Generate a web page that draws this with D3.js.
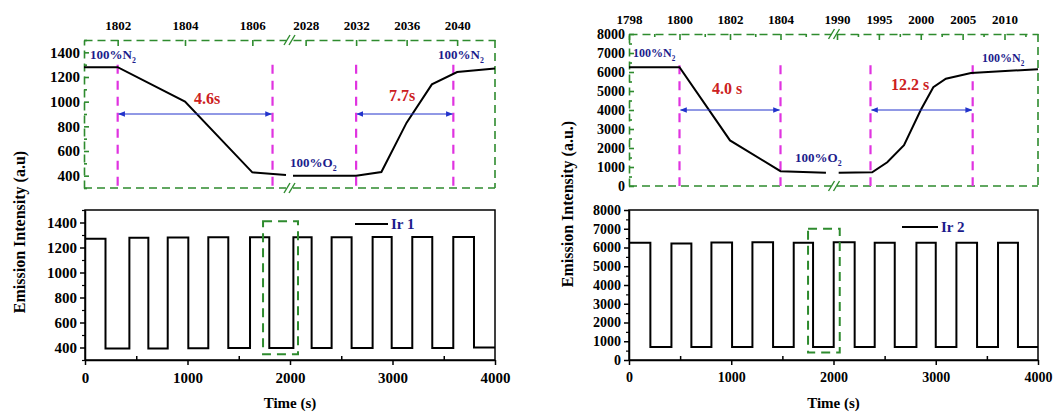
<!DOCTYPE html>
<html>
<head>
<meta charset="utf-8">
<script src="https://cdn.jsdelivr.net/npm/d3@7"></script>
<style>
  body { margin: 0; background: #fff; }
  svg text { font-family: "Liberation Serif", "Times New Roman", "DejaVu Serif", serif !important; font-weight: bold; }
</style>
</head>
<body>
<div id="vizContainer"></div>
<script>
let w = 1053;
let h = 414;
let serif = '"Liberation Serif", "Times New Roman", serif';

// ---------- data ----------
// Ir 1 zoomed transition (left inset)
let ir1ZoomOffT = [1801, 1802, 1804, 1806, 1807];
let ir1ZoomOffV = [1280, 1280, 1000, 427, 405];
let ir1ZoomOnT = [2027, 2032, 2034, 2036, 2038, 2040, 2043];
let ir1ZoomOnV = [400, 400, 430, 830, 1140, 1240, 1268];
// Ir 2 zoomed transition (right inset)
let ir2ZoomOffT = [1798, 1800, 1802, 1804, 1805.8];
let ir2ZoomOffV = [6250, 6250, 2400, 780, 700];
let ir2ZoomOnT = [1990.2, 1994.2, 1996, 1998, 2000, 2001.5, 2003, 2006, 2014];
let ir2ZoomOnV = [700, 720, 1250, 2150, 4000, 5200, 5650, 5950, 6150];

// full cycling curves: switching times and the level held after each switch
let ir1Times = [0, 200, 433, 618, 807, 1008, 1203, 1398, 1610, 1798, 2033, 2211, 2406, 2601, 2806, 2992, 3193, 3388, 3593, 3795, 4000];
let ir1Levels = [1270, 393, 1278, 393, 1280, 395, 1282, 397, 1282, 397, 1283, 397, 1283, 397, 1285, 397, 1285, 397, 1285, 400, 400];
let ir2Times = [0, 209, 415, 610, 806, 1008, 1207, 1409, 1611, 1800, 2002, 2207, 2403, 2599, 2811, 3000, 3202, 3404, 3609, 3804, 4000];
let ir2Levels = [6250, 700, 6220, 700, 6270, 700, 6280, 700, 6260, 700, 6280, 700, 6260, 700, 6250, 700, 6250, 700, 6250, 700, 700];

// response times
let ir1Marks = [1802, 1806.6, 2032, 2039.7];
let ir2Marks = [1800, 1804, 1994, 2006.2];
let ir1Labels = ["4.6s", "7.7s"];
let ir2Labels = ["4.0 s", "12.2 s"];

// tick values
let ir1TopTicksL = [1802, 1804, 1806];
let ir1TopTicksR = [2028, 2032, 2036, 2040];
let ir2TopTicksL = [1798, 1800, 1802, 1804];
let ir2TopTicksR = [1990, 1995, 2000, 2005, 2010];
let ir1YTicks = [400, 600, 800, 1000, 1200, 1400];
let ir2YTicks = [0, 1000, 2000, 3000, 4000, 5000, 6000, 7000, 8000];
let timeTicks = [0, 1000, 2000, 3000, 4000];

// ---------- svg ----------
let viz = d3.select("#vizContainer").append("svg")
    .attr("width", w)
    .attr("height", h)
    .style("background-color", "white")
;

let green = "#2e8b2e";
let pink = "#e033e0";
let blue = "#2233cc";
let navy = "#1c1c8c";
let red = "#cc2020";
let fmt = d3.format("d");

let defs = viz.append("defs");
["arrEnd", "arrStart"].forEach((id, i) => {
  defs.append("marker")
    .attr("id", id)
    .attr("viewBox", "0 0 10 10")
    .attr("refX", i == 0 ? 9 : 1).attr("refY", 5)
    .attr("markerWidth", 7).attr("markerHeight", 7)
    .attr("orient", "auto")
    .append("path")
    .attr("d", i == 0 ? "M0,1 L10,5 L0,9 z" : "M10,1 L0,5 L10,9 z")
    .attr("fill", blue);
});

function styleTicks(g, size) {
  g.attr("font-family", serif);
  g.selectAll("text").style("font-size", size + "px").style("font-family", serif)
    .style("font-weight", "bold").attr("fill", "black");
}

// ---------- inset (broken axis, green dashed frame) ----------
function drawInset(cfg) {
  let g = viz.append("g").attr("class", "inset");
  let xL = d3.scaleLinear().domain(cfg.domL).range(cfg.rangeL);
  let xR = d3.scaleLinear().domain(cfg.domR).range(cfg.rangeR);
  let y = d3.scaleLinear().domain(cfg.yDom).range([cfg.bottom, cfg.top]);
  let left = cfg.rangeL[0], right = cfg.rangeR[1];

  // top axes
  [[xL, cfg.ticksL, cfg.minorL], [xR, cfg.ticksR, cfg.minorR]].forEach(([sc, tv, mv]) => {
    let ax = g.append("g").attr("transform", "translate(0," + cfg.top + ")")
      .call(d3.axisTop(sc).tickValues(tv).tickSize(-6).tickSizeOuter(0).tickPadding(10).tickFormat(fmt));
    ax.selectAll("path").attr("stroke", green).attr("stroke-width", 1.6).attr("stroke-dasharray", "8,5");
    ax.selectAll("line").attr("stroke", green).attr("stroke-width", 1.6);
    styleTicks(ax, 13);
    if (mv) {
      g.append("g").attr("transform", "translate(0," + cfg.top + ")")
        .call(d3.axisTop(sc).tickValues(mv).tickSize(-3).tickSizeOuter(0).tickFormat(""))
        .call(a => a.select("path").remove())
        .selectAll("line").attr("stroke", green).attr("stroke-width", 1.6);
    }
  });

  // bottom line (broken)
  [cfg.rangeL, cfg.rangeR].forEach(r => {
    g.append("line").attr("x1", r[0]).attr("x2", r[1]).attr("y1", cfg.bottom).attr("y2", cfg.bottom)
      .attr("stroke", green).attr("stroke-width", 1.6).attr("stroke-dasharray", "8,5");
  });
  // right line
  g.append("line").attr("x1", right).attr("x2", right).attr("y1", cfg.top).attr("y2", cfg.bottom)
    .attr("stroke", green).attr("stroke-width", 1.6).attr("stroke-dasharray", "8,5");

  // left axis
  let ay = g.append("g").attr("transform", "translate(" + left + ",0)")
    .call(d3.axisLeft(y).tickValues(cfg.yTicks).tickSize(-5).tickSizeOuter(0).tickPadding(4).tickFormat(fmt));
  ay.selectAll("path").attr("stroke", green).attr("stroke-width", 1.6).attr("stroke-dasharray", "8,5");
  ay.selectAll("line").attr("stroke", green).attr("stroke-width", 1.6);
  styleTicks(ay, cfg.fs);
  g.append("g").attr("transform", "translate(" + left + ",0)")
    .call(d3.axisLeft(y).tickValues(cfg.yMinor).tickSize(-3).tickSizeOuter(0).tickFormat(""))
    .call(a => a.select("path").remove())
    .selectAll("line").attr("stroke", green).attr("stroke-width", 1.6);

  // break marks
  let bx = (cfg.rangeL[1] + cfg.rangeR[0]) / 2;
  [cfg.top, cfg.bottom].forEach(yy => {
    [-2.5, 2.5].forEach(dx => {
      g.append("line").attr("x1", bx + dx - 3).attr("x2", bx + dx + 3).attr("y1", yy + 5).attr("y2", yy - 5)
        .attr("stroke", green).attr("stroke-width", 1.4);
    });
  });

  // pink dashed markers
  cfg.marks.forEach((m, i) => {
    let sc = i < 2 ? xL : xR;
    g.append("line").attr("x1", sc(m)).attr("x2", sc(m)).attr("y1", y(cfg.markTop)).attr("y2", cfg.bottom)
      .attr("stroke", pink).attr("stroke-width", 2.2).attr("stroke-dasharray", "9,7");
  });

  // curves
  let lineL = d3.line().x(d => xL(d[0])).y(d => y(d[1]));
  let lineR = d3.line().x(d => xR(d[0])).y(d => y(d[1]));
  g.append("path").attr("d", lineL(d3.zip(cfg.offT, cfg.offV)))
    .attr("fill", "none").attr("stroke", "black").attr("stroke-width", 2);
  g.append("path").attr("d", lineR(d3.zip(cfg.onT, cfg.onV)))
    .attr("fill", "none").attr("stroke", "black").attr("stroke-width", 2);

  // arrows and response-time labels
  [[xL, 0], [xR, 2]].forEach(([sc, k], j) => {
    g.append("line")
      .attr("x1", sc(cfg.marks[k]) + 1).attr("x2", sc(cfg.marks[k + 1]) - 1)
      .attr("y1", y(cfg.arrowV)).attr("y2", y(cfg.arrowV))
      .attr("stroke", blue).attr("stroke-width", 1)
      .attr("marker-end", "url(#arrEnd)").attr("marker-start", "url(#arrStart)");
    g.append("text").attr("x", cfg.labelPos[j][0]).attr("y", cfg.labelPos[j][1])
      .attr("text-anchor", "middle").attr("fill", red).style("font-size", "16px")
      .text(cfg.labels[j]);
  });

  // gas labels
  cfg.gas.forEach(gl => {
    let t = g.append("text").attr("x", gl[0]).attr("y", gl[1]).attr("fill", navy)
      .style("font-size", gl[3] + "px");
    t.append("tspan").text(gl[2]);
    t.append("tspan").attr("dy", 4).style("font-size", (gl[3] * 0.6) + "px").text("2");
  });
}

// ---------- full cycle panel ----------
function drawCycle(cfg) {
  let g = viz.append("g").attr("class", "cycle");
  let x = d3.scaleLinear().domain([0, 4000]).range(cfg.rangeX);
  let y = d3.scaleLinear().domain(cfg.yDom).range([cfg.bottom, cfg.top]);

  g.append("rect").attr("x", cfg.rangeX[0]).attr("y", cfg.top)
    .attr("width", cfg.rangeX[1] - cfg.rangeX[0]).attr("height", cfg.bottom - cfg.top)
    .attr("fill", "none").attr("stroke", "black").attr("stroke-width", 1.5);

  let ax = g.append("g").attr("transform", "translate(0," + cfg.bottom + ")")
    .call(d3.axisBottom(x).tickValues(timeTicks).tickSize(5).tickSizeOuter(0).tickPadding(7).tickFormat(fmt));
  ax.selectAll("path, line").attr("stroke", "black").attr("stroke-width", 1.5);
  styleTicks(ax, cfg.fs);
  g.append("g").attr("transform", "translate(0," + cfg.bottom + ")")
    .call(d3.axisBottom(x).tickValues([500, 1500, 2500, 3500]).tickSize(-4).tickFormat(""))
    .call(a => a.select("path").remove())
    .selectAll("line").attr("stroke", "black").attr("stroke-width", 1.5);

  let ay = g.append("g").attr("transform", "translate(" + cfg.rangeX[0] + ",0)")
    .call(d3.axisLeft(y).tickValues(cfg.yTicks).tickSize(5).tickSizeOuter(0).tickPadding(3).tickFormat(fmt));
  ay.selectAll("path, line").attr("stroke", "black").attr("stroke-width", 1.5);
  styleTicks(ay, cfg.fs);
  g.append("g").attr("transform", "translate(" + cfg.rangeX[0] + ",0)")
    .call(d3.axisLeft(y).tickValues(cfg.yMinor).tickSize(3).tickFormat(""))
    .call(a => a.select("path").remove())
    .selectAll("line").attr("stroke", "black").attr("stroke-width", 1.2);

  let line = d3.line().curve(d3.curveStepAfter).x(d => x(d[0])).y(d => y(d[1]));
  g.append("path").attr("d", line(d3.zip(cfg.times, cfg.levels)))
    .attr("fill", "none").attr("stroke", "black").attr("stroke-width", 2);

  // zoom box
  g.append("rect").attr("x", x(cfg.box[0])).attr("y", y(cfg.box[3]))
    .attr("width", x(cfg.box[1]) - x(cfg.box[0])).attr("height", y(cfg.box[2]) - y(cfg.box[3]))
    .attr("fill", "none").attr("stroke", green).attr("stroke-width", 2).attr("stroke-dasharray", "9,6");

  // legend
  g.append("line").attr("x1", cfg.legend[0]).attr("x2", cfg.legend[0] + cfg.legend[2])
    .attr("y1", cfg.legend[1]).attr("y2", cfg.legend[1]).attr("stroke", "black").attr("stroke-width", 2);
  g.append("text").attr("x", cfg.legend[0] + cfg.legend[2] + 3).attr("y", cfg.legend[1] + 5)
    .attr("fill", navy).style("font-size", "15px").text(cfg.name);

  g.append("text").attr("x", (cfg.rangeX[0] + cfg.rangeX[1]) / 2).attr("y", 408)
    .attr("text-anchor", "middle").style("font-size", "15px").text("Time (s)");
}

drawInset({
  domL: [1801, 1807], rangeL: [84, 286], domR: [2027, 2043], rangeR: [293, 495],
  yDom: [300, 1500], top: 40, bottom: 188, fs: 15,
  ticksL: ir1TopTicksL, ticksR: ir1TopTicksR, minorL: null, minorR: null,
  yTicks: ir1YTicks, yMinor: [300, 500, 700, 900, 1100, 1300, 1500],
  marks: ir1Marks, markTop: 1300, arrowV: 900,
  offT: ir1ZoomOffT, offV: ir1ZoomOffV, onT: ir1ZoomOnT, onV: ir1ZoomOnV,
  labels: ir1Labels, labelPos: [[207, 104], [402, 101]],
  gas: [[90, 59, "100%N", 13], [438, 59, "100%N", 13], [290, 167, "100%O", 13]]
});

drawInset({
  domL: [1798, 1806], rangeL: [629, 831], domR: [1990, 2014], rangeR: [837, 1038],
  yDom: [0, 8000], top: 34, bottom: 186, fs: 14,
  ticksL: ir2TopTicksL, ticksR: ir2TopTicksR, minorL: [1799, 1801, 1803, 1805], minorR: [1992.5, 1997.5, 2002.5, 2007.5, 2012.5],
  yTicks: ir2YTicks, yMinor: [500, 1500, 2500, 3500, 4500, 5500, 6500, 7500],
  marks: ir2Marks, markTop: 6350, arrowV: 4000,
  offT: ir2ZoomOffT, offV: ir2ZoomOffV, onT: ir2ZoomOnT, onV: ir2ZoomOnV,
  labels: ir2Labels, labelPos: [[727, 94], [910, 90]],
  gas: [[633, 57, "100%N", 12], [982, 62, "100%N", 12], [795, 162, "100%O", 13]]
});

drawCycle({
  rangeX: [85, 495], yDom: [300, 1500], top: 210, bottom: 360, fs: 15,
  yTicks: ir1YTicks, yMinor: [300, 500, 700, 900, 1100, 1300, 1500],
  times: ir1Times, levels: ir1Levels, box: [1737, 2078, 346, 1410],
  legend: [355, 224, 33], name: "Ir 1"
});

drawCycle({
  rangeX: [629, 1038], yDom: [0, 8000], top: 210, bottom: 360, fs: 14,
  yTicks: ir2YTicks, yMinor: [500, 1500, 2500, 3500, 4500, 5500, 6500, 7500],
  times: ir2Times, levels: ir2Levels, box: [1751, 2061, 400, 7000],
  legend: [902, 227, 36], name: "Ir 2"
});

// y-axis titles
viz.append("text").attr("transform", "translate(25,232) rotate(-90)")
  .attr("text-anchor", "middle").style("font-size", "16px").text("Emission Intensity (a.u)");
viz.append("text").attr("transform", "translate(573,204) rotate(-90)")
  .attr("text-anchor", "middle").style("font-size", "16px").text("Emission Intensity (a.u.)");
</script>
</body>
</html>
